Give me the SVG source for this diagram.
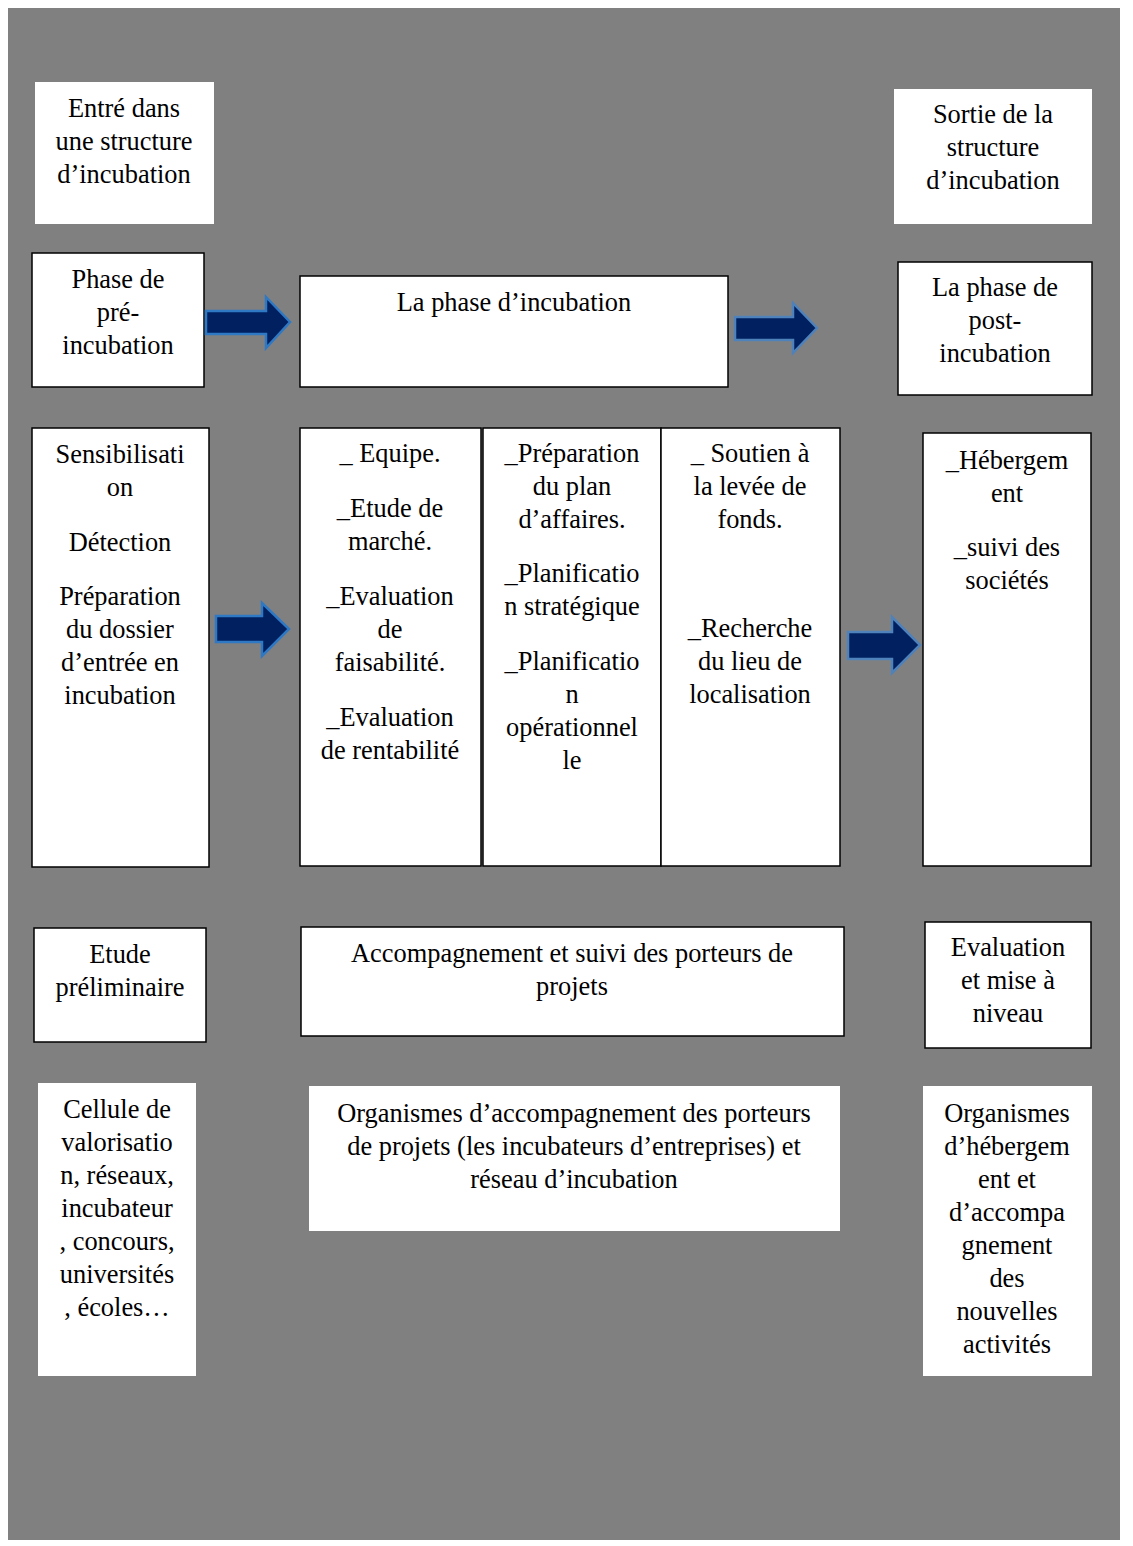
<svg xmlns="http://www.w3.org/2000/svg" width="1133" height="1546" viewBox="0 0 1133 1546">
<style>
.bg{fill:#808080}
.box{fill:#fff;stroke:#000;stroke-width:1.5}
.plain{fill:#fff}
text{font-family:'Liberation Serif','DejaVu Serif',serif;font-size:26.4px;fill:#000;text-anchor:middle}
.arrow{fill:#002060;stroke:#2f78c4;stroke-width:2.5;stroke-linejoin:miter}
.arrow2{fill:#002060;stroke:#4f82bb;stroke-width:2.5;stroke-linejoin:miter}
</style>
<rect width="1133" height="1546" fill="#fff"/>
<rect class="bg" x="8" y="8" width="1112" height="1532"/>

<g id="entree">
<rect class="plain" x="35" y="82" width="179" height="142"/>
<text x="124" y="117">Entré dans</text>
<text x="124" y="150">une structure</text>
<text x="124" y="183">d’incubation</text>
</g>

<g id="sortie">
<rect class="plain" x="894" y="89" width="198" height="135"/>
<text x="993" y="123">Sortie de la</text>
<text x="993" y="156">structure</text>
<text x="993" y="189">d’incubation</text>
</g>

<g id="pre-incubation">
<rect class="box" x="32" y="253" width="172" height="134"/>
<text x="118" y="288">Phase de</text>
<text x="118" y="321">pré-</text>
<text x="118" y="354">incubation</text>
</g>

<g id="incubation">
<rect class="box" x="300" y="276" width="428" height="111"/>
<text x="514" y="311">La phase d’incubation</text>
</g>

<g id="post-incubation">
<rect class="box" x="898" y="262" width="194" height="133"/>
<text x="995" y="296">La phase de</text>
<text x="995" y="329">post-</text>
<text x="995" y="362">incubation</text>
</g>

<g id="sensibilisation">
<rect class="box" x="32" y="428" width="177" height="439"/>
<text x="120" y="463">Sensibilisati</text>
<text x="120" y="496">on</text>
<text x="120" y="551">Détection</text>
<text x="120" y="605">Préparation</text>
<text x="120" y="638">du dossier</text>
<text x="120" y="671">d’entrée en</text>
<text x="120" y="704">incubation</text>
</g>

<g id="col-equipe">
<rect class="box" x="300" y="428" width="181" height="438"/>
<text x="390" y="462">_ Equipe.</text>
<text x="390" y="517">_Etude de</text>
<text x="390" y="550">marché.</text>
<text x="390" y="605">_Evaluation</text>
<text x="390" y="638">de</text>
<text x="390" y="671">faisabilité.</text>
<text x="390" y="726">_Evaluation</text>
<text x="390" y="759">de rentabilité</text>
</g>

<g id="col-plan">
<rect class="box" x="483" y="428" width="178" height="438"/>
<text x="572" y="462">_Préparation</text>
<text x="572" y="495">du plan</text>
<text x="572" y="528">d’affaires.</text>
<text x="572" y="582">_Planificatio</text>
<text x="572" y="615">n stratégique</text>
<text x="572" y="670">_Planificatio</text>
<text x="572" y="703">n</text>
<text x="572" y="736">opérationnel</text>
<text x="572" y="769">le</text>
</g>

<g id="col-fonds">
<rect class="box" x="661" y="428" width="179" height="438"/>
<text x="750" y="462">_ Soutien à</text>
<text x="750" y="495">la levée de</text>
<text x="750" y="528">fonds.</text>
<text x="750" y="637">_Recherche</text>
<text x="750" y="670">du lieu de</text>
<text x="750" y="703">localisation</text>
</g>

<g id="hebergement">
<rect class="box" x="923" y="433" width="168" height="433"/>
<text x="1007" y="469">_Hébergem</text>
<text x="1007" y="502">ent</text>
<text x="1007" y="556">_suivi des</text>
<text x="1007" y="589">sociétés</text>
</g>

<g id="etude">
<rect class="box" x="34" y="928" width="172" height="114"/>
<text x="120" y="963">Etude</text>
<text x="120" y="996">préliminaire</text>
</g>

<g id="accompagnement">
<rect class="box" x="301" y="927" width="543" height="109"/>
<text x="572" y="962">Accompagnement et suivi des porteurs de</text>
<text x="572" y="995">projets</text>
</g>

<g id="evaluation">
<rect class="box" x="925" y="922" width="166" height="126"/>
<text x="1008" y="956">Evaluation</text>
<text x="1008" y="989">et mise à</text>
<text x="1008" y="1022">niveau</text>
</g>

<g id="cellule">
<rect class="plain" x="38" y="1083" width="158" height="293"/>
<text x="117" y="1118">Cellule de</text>
<text x="117" y="1151">valorisatio</text>
<text x="117" y="1184">n, réseaux,</text>
<text x="117" y="1217">incubateur</text>
<text x="117" y="1250">, concours,</text>
<text x="117" y="1283">universités</text>
<text x="117" y="1316">, écoles…</text>
</g>

<g id="organismes-accompagnement">
<rect class="plain" x="309" y="1086" width="531" height="145"/>
<text x="574" y="1122">Organismes d’accompagnement des porteurs</text>
<text x="574" y="1155">de projets (les incubateurs d’entreprises) et</text>
<text x="574" y="1188">réseau d’incubation</text>
</g>

<g id="organismes-hebergement">
<rect class="plain" x="923" y="1086" width="169" height="290"/>
<text x="1007" y="1122">Organismes</text>
<text x="1007" y="1155">d’hébergem</text>
<text x="1007" y="1188">ent et</text>
<text x="1007" y="1221">d’accompa</text>
<text x="1007" y="1254">gnement</text>
<text x="1007" y="1287">des</text>
<text x="1007" y="1320">nouvelles</text>
<text x="1007" y="1353">activités</text>
</g>

<g id="connectors">
<path class="arrow" d="M206,311 H266 V297 L290,322 L266,348 V334 H206 Z"/>
<path class="arrow2" d="M735,317 H793 V303 L817,328 L793,353 V340 H735 Z"/>
<path class="arrow" d="M216,616 H262 V603 L289,629 L262,656 V642 H216 Z"/>
<path class="arrow2" d="M848,632 H892 V617 L920,645 L892,673 V659 H848 Z"/>
</g>
</svg>
